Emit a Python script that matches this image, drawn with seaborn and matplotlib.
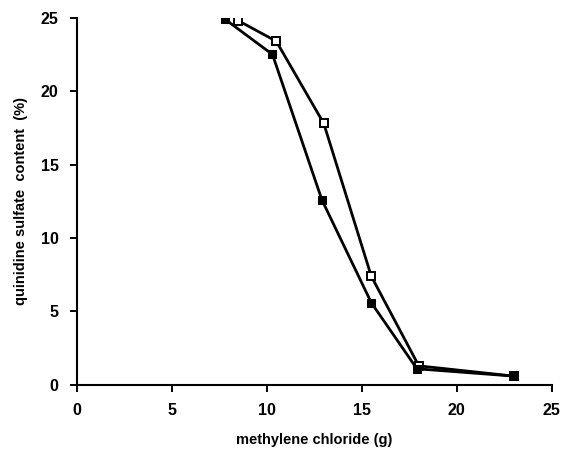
import matplotlib
matplotlib.use("Agg")
import matplotlib.pyplot as plt
import seaborn as sns
import pandas as pd

# methylene chloride (g) vs quinidine sulfate content (%)
filled_x = [7.8, 10.3, 12.9, 15.5, 17.9, 23.0]
filled_y = [24.9, 22.5, 12.6, 5.6, 1.1, 0.6]
open_x = [8.5, 10.5, 13.0, 15.5, 18.0, 23.0]
open_y = [24.8, 23.4, 17.8, 7.4, 1.3, 0.6]
ticks = [0, 5, 10, 15, 20, 25]

sns.set_style("ticks", {"text.color": "black", "axes.labelcolor": "black",
                        "xtick.color": "black", "ytick.color": "black",
                        "axes.edgecolor": "black"})
plt.rcParams['font.family'] = ['Liberation Sans', 'DejaVu Sans']
plt.rcParams['font.weight'] = 'bold'

df_filled = pd.DataFrame({"x": filled_x, "y": filled_y})
df_open = pd.DataFrame({"x": open_x, "y": open_y})

fig = plt.figure(figsize=(5.73, 4.55), dpi=100)
ax = fig.add_axes([0.134, 0.154, 0.829, 0.807])

sns.lineplot(data=df_open, x="x", y="y", sort=False, ax=ax, color="black",
             lw=2.0, marker="s", markersize=6, markerfacecolor="white",
             markeredgecolor="black", markeredgewidth=1.4)
sns.lineplot(data=df_filled, x="x", y="y", sort=False, ax=ax, color="black",
             lw=2.0, marker="s", markersize=6, markerfacecolor="black",
             markeredgecolor="black")

ax.set_xlim(0, 25)
ax.set_ylim(0, 25)
ax.set_xticks(ticks)
ax.set_yticks(ticks)
ax.tick_params(direction="out", length=5, width=1.4, labelsize=11.5, pad=8)
for lbl in ax.get_xticklabels() + ax.get_yticklabels():
    lbl.set_fontweight("bold")
ax.spines["left"].set_linewidth(1.5)
ax.spines["bottom"].set_linewidth(1.5)
sns.despine(ax=ax)

ax.set_xlabel("methylene chloride (g)", fontsize=10.5, fontweight="bold", labelpad=11)
ax.set_ylabel("quinidine sulfate  content  (%)", fontsize=10.5, fontweight="bold", labelpad=9)

fig.savefig("out.png", dpi=100)
